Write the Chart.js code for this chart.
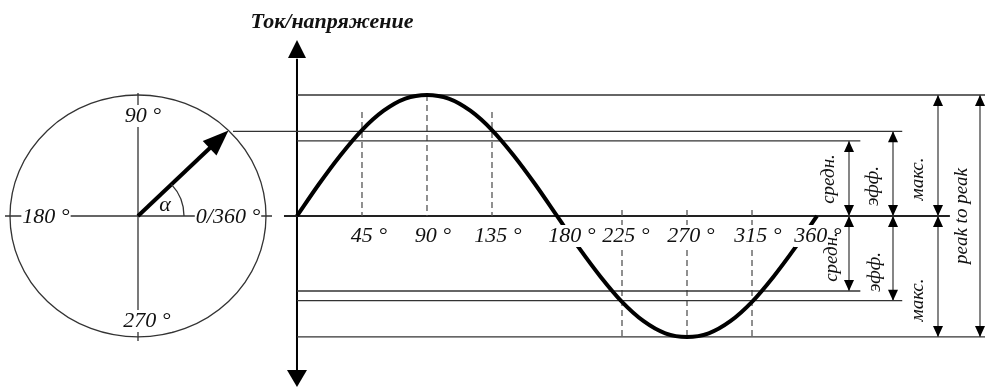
<!DOCTYPE html>
<html>
<head>
<meta charset="utf-8">
<script src="https://cdn.jsdelivr.net/npm/chart.js@4/dist/chart.umd.min.js"></script>
<style>
  html, body { margin: 0; padding: 0; background: #fff; overflow: hidden; }
</style>
</head>
<body>
<canvas id="grafico" width="985" height="389" style="width:985px;height:389px"></canvas>
<script>
// Datos
const tickDeg = [45, 90, 135, 180, 225, 270, 315, 360];
const tickLabels = ['45 °', '90 °', '135 °', '180 °', '225 °', '270 °', '315 °', '360 °'];
const curveDeg = [0, 15, 30, 45, 60, 75, 90, 105, 120, 135, 150, 165, 180,
  195, 210, 225, 240, 255, 270, 285, 300, 315, 330, 345, 360];
const curveVal = [0, 0.26, 0.5, 0.71, 0.87, 0.97, 1, 0.97, 0.87, 0.71, 0.5, 0.26, 0,
  -0.26, -0.5, -0.71, -0.87, -0.97, -1, -0.97, -0.87, -0.71, -0.5, -0.26, 0];
const levelNames = ['макс.', 'эфф.', 'средн.'];
const levelVals = [1, 0.7, 0.62];
const dashDeg = [45, 90, 135, 225, 270, 315];
const dashTop = [0.86, 1, 0.86, 0.05, 0.05, 0.05];
const dashBottom = [0, 0, 0, -1, -1, -1];
const circleLabels = ['90 °', '180 °', '0/360 °', '270 °'];
const title = 'Ток/напряжение';
const p2pLabel = 'peak to peak';

// 0° en px 297, 360° en px 817; 0 en px 216, 1 = 121 px
const X0 = -205.6, X1 = 476.3;
const Y1 = 1.785, Y0 = -1.43;

const font = "italic 22px 'Liberation Serif'";
const fontSmall = "italic 19px 'Liberation Serif'";

function seg(x1, y1, x2, y2, color, width, dash) {
  return {
    data: [{ x: x1, y: y1 }, { x: x2, y: y2 }],
    showLine: true, borderColor: color, borderWidth: width,
    borderDash: dash || [], pointRadius: 0, fill: false, clip: false
  };
}

const datasets = [];
// sinusoide
datasets.push({
  data: curveDeg.map((d, i) => ({ x: d, y: curveVal[i] })),
  showLine: true, borderColor: '#000', borderWidth: 4,
  cubicInterpolationMode: 'monotone', pointRadius: 0, fill: false, clip: false
});
// niveles (макс., эфф., средн.) arriba y abajo
const lineEnd = [477, 419, 390];
levelVals.forEach((v, i) => {
  const start = i === 1 ? -44.3 : 0;
  datasets.push(seg(start, v, lineEnd[i], v, '#333', 1.3));
  datasets.push(seg(0, -v, lineEnd[i], -v, '#333', 1.3));
});
// lineas discontinuas
dashDeg.forEach((d, i) => {
  datasets.push(seg(d, dashTop[i], d, dashBottom[i], '#555', 1.3, [6, 4]));
});
// eje cero y eje vertical
datasets.push(seg(-9, 0, 452, 0, '#222', 2));
datasets.push(seg(0, 1.3, 0, -1.28, '#000', 2));

function head(ctx, x, y, dir, w, l) {
  ctx.beginPath();
  ctx.moveTo(x, y);
  ctx.lineTo(x - w, y - dir * l);
  ctx.lineTo(x + w, y - dir * l);
  ctx.closePath();
  ctx.fill();
}

function boxText(ctx, text, cx, base) {
  const w = ctx.measureText(text).width;
  ctx.fillStyle = '#fff';
  ctx.fillRect(cx - w / 2 - 1, base - 17, w + 2, 22);
  ctx.fillStyle = '#111';
  ctx.fillText(text, cx, base);
}

function rotText(ctx, text, cx, cy) {
  ctx.save();
  ctx.translate(cx, cy);
  ctx.rotate(-Math.PI / 2);
  ctx.textAlign = 'center';
  ctx.textBaseline = 'middle';
  ctx.fillText(text, 0, 0);
  ctx.restore();
}

const extras = {
  id: 'extras',
  afterDatasetsDraw(chart) {
    const { ctx, scales: { x, y } } = chart;
    const y0 = y.getPixelForValue(0);
    const ry = y0 - y.getPixelForValue(1);
    ctx.save();

    // flechas del eje vertical
    const ax = x.getPixelForValue(0);
    ctx.fillStyle = '#000';
    head(ctx, ax, 40, -1, 9, 18);
    head(ctx, ax, 387, 1, 10, 17);

    // circulo
    const cx = 138, rx = 128;
    ctx.strokeStyle = '#333';
    ctx.lineWidth = 1.3;
    ctx.beginPath();
    ctx.ellipse(cx, y0, rx, ry, 0, 0, Math.PI * 2);
    ctx.stroke();
    ctx.beginPath();
    ctx.moveTo(cx, y0 - ry - 2); ctx.lineTo(cx, y0 + ry + 4);
    ctx.moveTo(5, y0); ctx.lineTo(272, y0);
    ctx.stroke();

    // fasor a 45°
    const tx = cx + rx * Math.cos(Math.PI / 4), ty = y0 - ry * Math.sin(Math.PI / 4);
    const ang = Math.atan2(ty - y0, tx - cx);
    ctx.strokeStyle = '#000';
    ctx.lineWidth = 4;
    ctx.beginPath();
    ctx.moveTo(cx, y0);
    ctx.lineTo(tx - 18 * Math.cos(ang), ty - 18 * Math.sin(ang));
    ctx.stroke();
    ctx.save();
    ctx.translate(tx, ty);
    ctx.rotate(ang + Math.PI / 2);
    ctx.fillStyle = '#000';
    head(ctx, 0, 0, -1, 10, 26);
    ctx.restore();
    // angulo α
    ctx.strokeStyle = '#333';
    ctx.lineWidth = 1.3;
    ctx.beginPath();
    ctx.arc(cx, y0, 46, ang, 0);
    ctx.stroke();

    ctx.font = font;
    ctx.textAlign = 'center';
    ctx.textBaseline = 'alphabetic';
    boxText(ctx, circleLabels[0], 143, 122);
    boxText(ctx, circleLabels[1], 46, 223);
    boxText(ctx, circleLabels[2], 228, 223);
    boxText(ctx, circleLabels[3], 147, 327);
    ctx.fillStyle = '#111';
    ctx.fillText('α', 165, 211);

    // etiquetas de grados
    const offs = [7, 6, 6, 15, 4, 4, 6, 1];
    tickDeg.forEach((d, i) => {
      boxText(ctx, tickLabels[i], x.getPixelForValue(d) + offs[i], 242);
    });

    // titulo
    ctx.font = "bold italic 22px 'Liberation Serif'";
    ctx.fillStyle = '#111';
    ctx.fillText(title, 332, 28);

    // cotas de la derecha
    const arrowX = [938, 893, 849];
    ctx.strokeStyle = '#444';
    ctx.fillStyle = '#000';
    ctx.lineWidth = 1.3;
    levelVals.forEach((v, i) => {
      const ax2 = arrowX[i];
      const top = y.getPixelForValue(v), bot = y.getPixelForValue(-v);
      ctx.beginPath();
      ctx.moveTo(ax2, top); ctx.lineTo(ax2, bot);
      ctx.stroke();
      head(ctx, ax2, top, -1, 5, 11);
      head(ctx, ax2, y0, 1, 5, 11);
      head(ctx, ax2, y0, -1, 5, 11);
      head(ctx, ax2, bot, 1, 5, 11);
    });
    const top1 = y.getPixelForValue(levelVals[0]), bot1 = y.getPixelForValue(-levelVals[0]);
    ctx.beginPath();
    ctx.moveTo(980, top1); ctx.lineTo(980, bot1);
    ctx.stroke();
    head(ctx, 980, top1, -1, 5, 11);
    head(ctx, 980, bot1, 1, 5, 11);

    ctx.font = fontSmall;
    ctx.fillStyle = '#111';
    const upPos = [[918, 179], [873, 186], [829, 179]];
    const lowPos = [[918, 300], [875, 272], [832, 257]];
    levelNames.forEach((n, i) => {
      rotText(ctx, n, upPos[i][0], upPos[i][1]);
      rotText(ctx, n, lowPos[i][0], lowPos[i][1]);
    });
    rotText(ctx, p2pLabel, 962, 216);

    ctx.restore();
  }
};

new Chart(document.getElementById('grafico'), {
  type: 'scatter',
  data: { datasets: datasets },
  options: {
    responsive: false,
    animation: false,
    devicePixelRatio: 1,
    events: [],
    layout: { padding: 0 },
    plugins: { legend: { display: false }, tooltip: { enabled: false } },
    scales: {
      x: { type: 'linear', display: false, min: X0, max: X1 },
      y: { type: 'linear', display: false, min: Y0, max: Y1 }
    }
  },
  plugins: [extras]
});
</script>
</body>
</html>
